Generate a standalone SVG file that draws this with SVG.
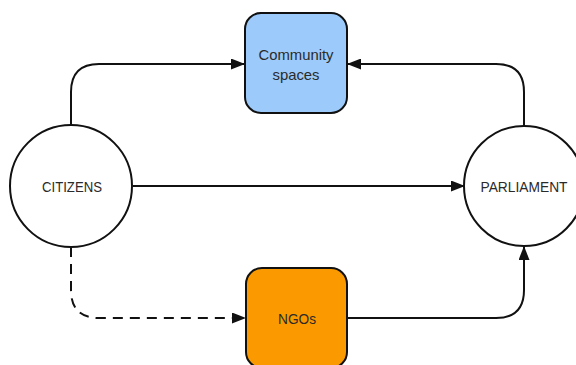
<svg xmlns="http://www.w3.org/2000/svg" width="576" height="365" viewBox="0 0 576 365">
<defs>
<style>
.node{stroke:#111;stroke-width:2}
.lbl{font-family:"Liberation Sans",Arial,sans-serif;font-size:15px;text-anchor:middle;dominant-baseline:central;fill:#2a2a2a}
.edge{fill:none;stroke:#111;stroke-width:2}
.dash{stroke-dasharray:10,7}
</style>
<marker id="arr" viewBox="0 0 14 11" refX="14" refY="5.5" markerWidth="14" markerHeight="11" markerUnits="userSpaceOnUse" orient="auto">
<path d="M0,0 L14,5.5 L0,11 Z" fill="#111"/>
</marker>
</defs>
<rect width="576" height="365" fill="#fff"/>
<g id="connectors">
<path class="edge" d="M71,125 V92 Q71,64 99,64 H245" marker-end="url(#arr)"/>
<path class="edge" d="M524,126 V92 Q524,64 496,64 H347" marker-end="url(#arr)"/>
<path class="edge" d="M133,186 H465" marker-end="url(#arr)"/>
<path class="edge dash" d="M71,247 V290 Q71,318 99,318 H246" marker-end="url(#arr)"/>
<path class="edge" d="M347,318 H496 Q524,318 524,290 V246" marker-end="url(#arr)"/>
</g>
<g id="community">
<rect class="node" x="245" y="13" width="102" height="100" rx="16" fill="#9ccafa"/>
<text class="lbl" x="296" y="54" textLength="75" lengthAdjust="spacingAndGlyphs" fill="#1c2a3c">Community</text>
<text class="lbl" x="296" y="74" textLength="47" lengthAdjust="spacingAndGlyphs" fill="#1c2a3c">spaces</text>
</g>
<g id="citizens">
<circle class="node" cx="71" cy="186" r="61" fill="#fff"/>
<text class="lbl" x="72" y="186" textLength="60" lengthAdjust="spacingAndGlyphs">CITIZENS</text>
</g>
<g id="parliament">
<circle class="node" cx="524" cy="186" r="60" fill="#fff"/>
<text class="lbl" x="524" y="186" textLength="87" lengthAdjust="spacingAndGlyphs">PARLIAMENT</text>
</g>
<g id="ngos">
<rect class="node" x="246" y="268" width="101" height="100" rx="16" fill="#fb9a00"/>
<text class="lbl" x="297" y="318" textLength="38" lengthAdjust="spacingAndGlyphs" fill="#2a1a00">NGOs</text>
</g>
</svg>
